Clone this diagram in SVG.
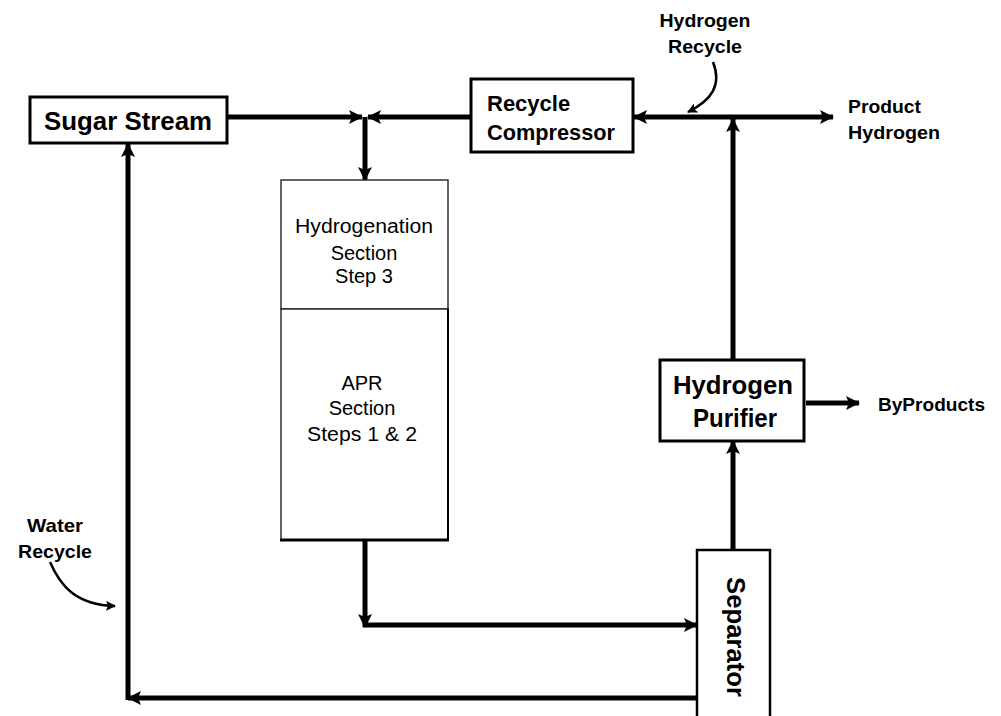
<svg xmlns="http://www.w3.org/2000/svg" width="1001" height="716" viewBox="0 0 1001 716">
<style>
.box{fill:#fff;stroke:#000;stroke-width:3}
.sec{fill:#fff;stroke:#222;stroke-width:1.4}
.b{font-family:"Liberation Sans",Arial,sans-serif;font-weight:bold;fill:#000}
.r{font-family:"Liberation Sans",Arial,sans-serif;fill:#000}
.flow{fill:none;stroke:#000;stroke-width:5}
.note{fill:none;stroke:#000;stroke-width:2.5}
</style>
<defs>
<marker id="ah" viewBox="0 0 14 14" refX="13" refY="7" markerWidth="14" markerHeight="14" markerUnits="userSpaceOnUse" orient="auto">
<path d="M0,0 L14,7 L0,14 L3,7 Z" fill="#000"/>
</marker>
<marker id="sm" viewBox="0 0 10 10" refX="9" refY="5" markerWidth="10" markerHeight="10" markerUnits="userSpaceOnUse" orient="auto">
<path d="M0,0 L10,5 L0,10 L2,5 Z" fill="#000"/>
</marker>
</defs>
<rect width="1001" height="716" fill="#fff"/>

<g id="connectors">
<path class="flow" d="M227,117 H362" marker-end="url(#ah)"/>
<path class="flow" d="M471,117 H368" marker-end="url(#ah)"/>
<path class="flow" d="M365,117 V180" marker-end="url(#ah)"/>
<path class="flow" d="M733,360 V119" marker-end="url(#ah)"/>
<path class="flow" d="M733,117 H634" marker-end="url(#ah)"/>
<path class="flow" d="M733,117 H833" marker-end="url(#ah)"/>
<path class="flow" d="M806,403 H859" marker-end="url(#ah)"/>
<path class="flow" d="M733,550 V441" marker-end="url(#ah)"/>
<path class="flow" d="M365,540 V627" marker-end="url(#ah)"/>
<path class="flow" d="M363,625 H697" marker-end="url(#ah)"/>
<path class="flow" d="M697,698 H128" marker-end="url(#ah)"/>
<path class="flow" d="M128,700 V144" marker-end="url(#ah)"/>
<path class="note" d="M713,62 C722,85 712,100 688,112" marker-end="url(#sm)"/>
<path class="note" d="M50,562 C60,585 75,605 115,606" marker-end="url(#sm)"/>
</g>

<g id="sugar-stream">
<rect class="box" x="30" y="97" width="197" height="46"/>
<text class="b" x="128" y="130" font-size="25" text-anchor="middle" textLength="168" lengthAdjust="spacingAndGlyphs">Sugar Stream</text>
</g>

<g id="recycle-compressor">
<rect class="box" x="471" y="79" width="162" height="73"/>
<text class="b" x="487" y="111" font-size="22">Recycle</text>
<text class="b" x="487" y="140" font-size="22" textLength="128" lengthAdjust="spacingAndGlyphs">Compressor</text>
</g>

<g id="reactor">
<rect class="sec" x="281" y="180" width="167" height="129"/>
<rect class="sec" x="281" y="309" width="167" height="231"/>
<line x1="448" y1="309" x2="448" y2="540" stroke="#000" stroke-width="2"/>
<line x1="280" y1="540" x2="449" y2="540" stroke="#000" stroke-width="3"/>
<text class="r" x="364" y="233" font-size="20" text-anchor="middle" textLength="138" lengthAdjust="spacingAndGlyphs">Hydrogenation</text>
<text class="r" x="364" y="260" font-size="20" text-anchor="middle">Section</text>
<text class="r" x="364" y="283" font-size="20" text-anchor="middle">Step 3</text>
<text class="r" x="362" y="390" font-size="20" text-anchor="middle">APR</text>
<text class="r" x="362" y="415" font-size="20" text-anchor="middle">Section</text>
<text class="r" x="362" y="441" font-size="20" text-anchor="middle" textLength="110" lengthAdjust="spacingAndGlyphs">Steps 1 &amp; 2</text>
</g>

<g id="hydrogen-purifier">
<rect class="box" x="660" y="360" width="144" height="81"/>
<text class="b" x="733" y="394" font-size="25" text-anchor="middle" textLength="120" lengthAdjust="spacingAndGlyphs">Hydrogen</text>
<text class="b" x="735" y="427" font-size="25" text-anchor="middle" textLength="84" lengthAdjust="spacingAndGlyphs">Purifier</text>
</g>

<g id="separator">
<rect x="697" y="550" width="73" height="172" fill="#fff" stroke="#000" stroke-width="2.5"/>
<text class="b" transform="translate(727,637) rotate(90)" x="0" y="0" font-size="25" text-anchor="middle" textLength="120" lengthAdjust="spacingAndGlyphs">Separator</text>
</g>

<g id="label-hydrogen-recycle">
<text class="b" x="705" y="27" font-size="19" text-anchor="middle" textLength="91" lengthAdjust="spacingAndGlyphs">Hydrogen</text>
<text class="b" x="705" y="53" font-size="19" text-anchor="middle" textLength="74" lengthAdjust="spacingAndGlyphs">Recycle</text>
</g>

<g id="label-product-hydrogen">
<text class="b" x="848" y="113" font-size="19" textLength="73" lengthAdjust="spacingAndGlyphs">Product</text>
<text class="b" x="848" y="139" font-size="19" textLength="92" lengthAdjust="spacingAndGlyphs">Hydrogen</text>
</g>

<g id="label-byproducts">
<text class="b" x="878" y="411" font-size="19" textLength="107" lengthAdjust="spacingAndGlyphs">ByProducts</text>
</g>

<g id="label-water-recycle">
<text class="b" x="55" y="532" font-size="19" text-anchor="middle" textLength="56" lengthAdjust="spacingAndGlyphs">Water</text>
<text class="b" x="55" y="558" font-size="19" text-anchor="middle" textLength="74" lengthAdjust="spacingAndGlyphs">Recycle</text>
</g>
</svg>
